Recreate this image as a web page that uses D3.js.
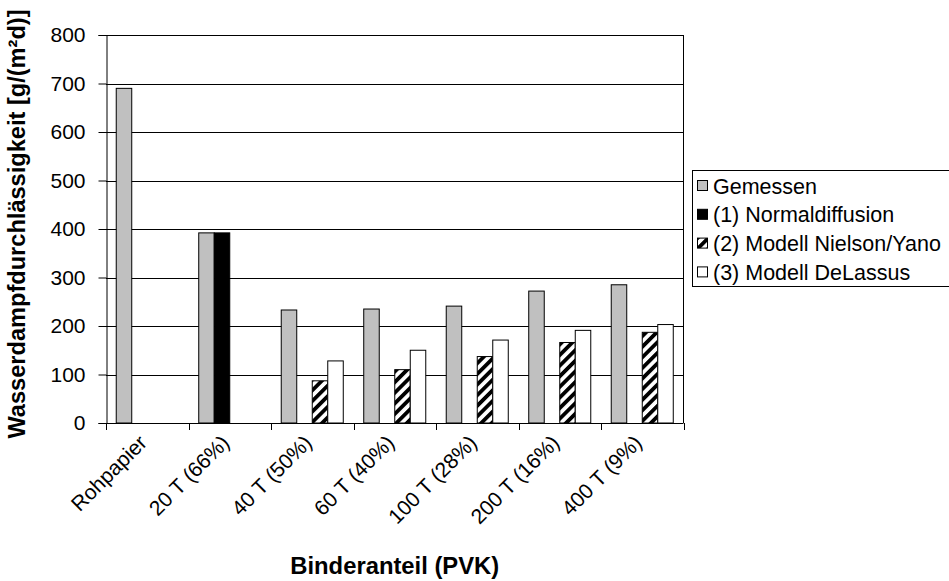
<!DOCTYPE html>
<html>
<head>
<meta charset="utf-8">
<script src="https://cdn.jsdelivr.net/npm/d3@7"></script>
<style>
body { margin: 0; background: #fff; }
text { font-family: Arial, "Liberation Sans", sans-serif; fill: #000; }
</style>
</head>
<body>
<svg id="chart" width="949" height="581"></svg>
<script>
var categories = ["Rohpapier", "20 T (66%)", "40 T (50%)", "60 T (40%)", "100 T (28%)", "200 T (16%)", "400 T (9%)"];
var gemessen = [690, 392, 233, 235, 241, 272, 285];
var normaldiffusion = [null, 392, null, null, null, null, null];
var nielsonYano = [null, null, 87, 110, 137, 166, 187];
var delassus = [null, null, 128, 150, 171, 191, 203];
var seriesNames = ["Gemessen", "(1) Normaldiffusion", "(2) Modell Nielson/Yano", "(3) Modell DeLassus"];
var yTicks = [0, 100, 200, 300, 400, 500, 600, 700, 800];

var svg = d3.select("#chart");
var fills = ["#c0c0c0", "#000000", "url(#hatch)", "#ffffff"];
var seriesValues = [gemessen, normaldiffusion, nielsonYano, delassus];

// hatch pattern for Nielson/Yano
var pat = svg.append("defs").append("pattern")
    .attr("id", "hatch")
    .attr("patternUnits", "userSpaceOnUse")
    .attr("width", 7.5)
    .attr("height", 7.5)
    .attr("patternTransform", "rotate(45)");
pat.append("rect").attr("width", 7.5).attr("height", 7.5).attr("fill", "#fff");
pat.append("rect").attr("width", 3.8).attr("height", 7.5).attr("fill", "#000");

var x = d3.scaleBand().domain(categories).range([106, 683.5]).padding(0);
var xs = d3.scaleBand().domain(d3.range(4)).range([0, x.bandwidth()]).paddingInner(0).paddingOuter(0.66);
var y = d3.scaleLinear().domain([0, 800]).range([423, 35]);

// gridlines
svg.append("g")
  .selectAll("line")
  .data(yTicks.slice(1))
  .enter().append("line")
    .attr("x1", 106).attr("x2", 683.5)
    .attr("y1", function(d) { return Math.round(y(d)) + 0.5; })
    .attr("y2", function(d) { return Math.round(y(d)) + 0.5; })
    .attr("stroke", "#000");

// bars
seriesValues.forEach(function(vals, si) {
  svg.append("g")
    .selectAll("rect")
    .data(categories.map(function(c, i) { return {c: c, v: vals[i]}; }).filter(function(d) { return d.v != null; }))
    .enter().append("rect")
      .attr("x", function(d) { return x(d.c) + xs(si); })
      .attr("y", function(d) { return y(d.v); })
      .attr("width", xs.bandwidth())
      .attr("height", function(d) { return y(0) - y(d.v); })
      .attr("fill", fills[si])
      .attr("stroke", "#000")
      .attr("stroke-width", 1);
});

// right border
svg.append("line")
  .attr("x1", 683.5).attr("x2", 683.5).attr("y1", y(800)).attr("y2", y(0))
  .attr("stroke", "#000");

// y axis
var yAxis = svg.append("g")
  .attr("transform", "translate(106.5,0)")
  .call(d3.axisLeft(y).tickValues(yTicks).tickSize(8).tickPadding(13));
yAxis.select(".domain").attr("stroke", "#000");
yAxis.selectAll("line").attr("stroke", "#000");
yAxis.selectAll("text").style("font-size", "21px").attr("fill", "#000");

// x axis
svg.append("line")
  .attr("x1", 106).attr("x2", 683.5).attr("y1", y(0) + 0.5).attr("y2", y(0) + 0.5)
  .attr("stroke", "#000");
svg.append("g")
  .selectAll("line")
  .data(categories.map(function(c) { return x(c); }).concat([x.range()[1]]))
  .enter().append("line")
    .attr("x1", function(d) { return Math.round(d) + 0.5; })
    .attr("x2", function(d) { return Math.round(d) + 0.5; })
    .attr("y1", y(0)).attr("y2", y(0) + 7)
    .attr("stroke", "#000");

svg.append("g")
  .selectAll("text")
  .data(categories)
  .enter().append("text")
    .attr("transform", function(d) {
      return "translate(" + (x(d) + x.bandwidth() / 2 + 1) + ",444) rotate(-45)";
    })
    .attr("text-anchor", "end")
    .style("font-size", "21px")
    .text(function(d) { return d; });

// axis titles
svg.append("text")
  .attr("x", (106 + 683.5) / 2)
  .attr("y", 574)
  .attr("text-anchor", "middle")
  .style("font-size", "23.8px")
  .style("font-weight", "bold")
  .text("Binderanteil (PVK)");

svg.append("text")
  .attr("transform", "translate(25,224) rotate(-90)")
  .attr("text-anchor", "middle")
  .style("font-size", "23.6px")
  .style("font-weight", "bold")
  .text("Wasserdampfdurchlässigkeit [g/(m²d)]");

// legend
var legend = svg.append("g");
legend.append("rect")
  .attr("x", 692.5).attr("y", 170.5)
  .attr("width", 270).attr("height", 116)
  .attr("fill", "#fff")
  .attr("stroke", "#000");
var items = legend.selectAll("g.item")
  .data(seriesNames)
  .enter().append("g")
    .attr("class", "item")
    .attr("transform", function(d, i) { return "translate(0," + (186 + i * 28.8) + ")"; });
items.append("rect")
  .attr("x", 697.5).attr("y", -5.5)
  .attr("width", 10).attr("height", 10)
  .attr("fill", function(d, i) { return fills[i]; })
  .attr("stroke", "#000");
items.append("text")
  .attr("x", 713)
  .attr("dy", "0.35em")
  .style("font-size", "21.5px")
  .text(function(d) { return d; });
</script>
</body>
</html>
